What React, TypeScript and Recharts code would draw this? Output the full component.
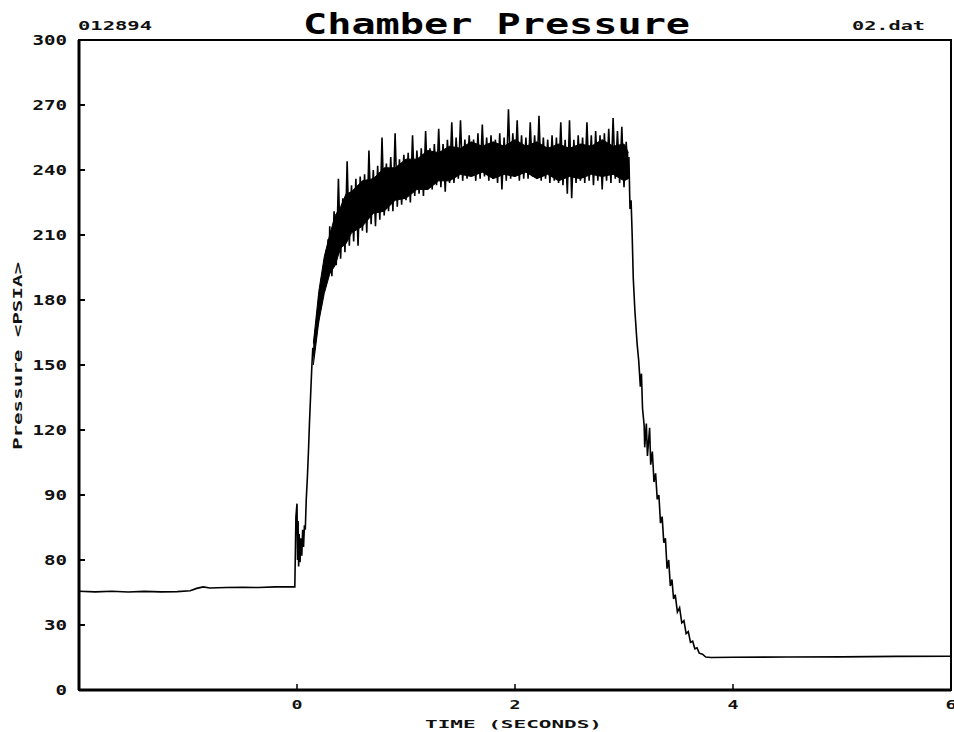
import React from "react";
import {
  ComposedChart,
  Line,
  Area,
  XAxis,
  YAxis,
  ReferenceArea,
} from "recharts";

// ---- labels ----
const titleText = "Chamber Pressure";
const leftCornerText = "012894";
const rightCornerText = "02.dat";
const xAxisTitle = "TIME (SECONDS)";
const yAxisTitle = "Pressure <PSIA>";

const xTicks = [0, 2, 4, 6];
const xTickLabels = ["0", "2", "4", "6"];
const yTicks = [0, 30, 60, 90, 120, 150, 180, 210, 240, 270, 300];
const yTickLabels = ["0", "30", "80", "90", "120", "150", "180", "210", "240", "270", "300"];

// ---- trace: [time (s), pressure (psia)] ----
const baseline: [number, number][] = [
  [-2.0, 45.6], [-1.85, 45.3], [-1.7, 45.6], [-1.55, 45.2], [-1.4, 45.5], [-1.25, 45.3],
  [-1.1, 45.4], [-0.98, 45.8], [-0.92, 46.9], [-0.86, 47.6], [-0.8, 47.1], [-0.65, 47.3],
  [-0.5, 47.4], [-0.35, 47.3], [-0.2, 47.6], [-0.02, 47.6],
];

const ignition: [number, number][] = [
  [-0.01, 80], [0.0, 86], [0.005, 60], [0.01, 78], [0.015, 57], [0.02, 72], [0.028, 59],
  [0.036, 70], [0.044, 62], [0.052, 74], [0.06, 66], [0.068, 76], [0.076, 74], [0.085, 88],
  [0.095, 98], [0.105, 110], [0.115, 124], [0.125, 136], [0.135, 148], [0.145, 158],
  [0.155, 154], [0.165, 166], [0.175, 162], [0.185, 174], [0.195, 169], [0.205, 182],
  [0.215, 176], [0.225, 190], [0.235, 183], [0.245, 196], [0.255, 187], [0.265, 203],
  [0.275, 190], [0.285, 208], [0.295, 193],
];

const plateau: [number, number][] = [
  [0.3, 214], [0.32, 191], [0.34, 221], [0.36, 196], [0.38, 236], [0.4, 199], [0.42, 227],
  [0.44, 202], [0.46, 244], [0.48, 205], [0.5, 233], [0.52, 207], [0.54, 236], [0.56, 205],
  [0.58, 237], [0.6, 212], [0.62, 238], [0.64, 211], [0.66, 249], [0.68, 215], [0.7, 240],
  [0.72, 214], [0.74, 242], [0.76, 217], [0.78, 255], [0.8, 219], [0.82, 243], [0.84, 221],
  [0.86, 246], [0.88, 221], [0.9, 257], [0.92, 223], [0.94, 245], [0.96, 224], [0.98, 247],
  [1.0, 226], [1.02, 248], [1.04, 225], [1.06, 256], [1.08, 228], [1.1, 249], [1.12, 229],
  [1.14, 250], [1.16, 228], [1.18, 258], [1.2, 231], [1.22, 250], [1.24, 231], [1.26, 252],
  [1.28, 233], [1.3, 259], [1.32, 232], [1.34, 252], [1.36, 230], [1.38, 254], [1.4, 234],
  [1.42, 262], [1.44, 234], [1.46, 255], [1.48, 236], [1.5, 263], [1.52, 235], [1.54, 254],
  [1.56, 236], [1.58, 256], [1.6, 237], [1.62, 254], [1.64, 235], [1.66, 257], [1.68, 236],
  [1.7, 261], [1.72, 237], [1.74, 255], [1.76, 235], [1.78, 256], [1.8, 236], [1.82, 254],
  [1.84, 234], [1.86, 257], [1.88, 231], [1.9, 255], [1.92, 235], [1.94, 268], [1.96, 236],
  [1.98, 257], [2.0, 237], [2.02, 263], [2.04, 235], [2.06, 256], [2.08, 236], [2.1, 255],
  [2.12, 236], [2.14, 262], [2.16, 237], [2.18, 256], [2.2, 236], [2.22, 265], [2.24, 235],
  [2.26, 255], [2.28, 236], [2.3, 254], [2.32, 234], [2.34, 256], [2.36, 235], [2.38, 255],
  [2.4, 234], [2.42, 262], [2.44, 233], [2.46, 254], [2.48, 229], [2.5, 263], [2.52, 227],
  [2.54, 254], [2.56, 234], [2.58, 256], [2.6, 235], [2.62, 255], [2.64, 234], [2.66, 262],
  [2.68, 235], [2.7, 256], [2.72, 233], [2.74, 258], [2.76, 235], [2.78, 256], [2.8, 231],
  [2.82, 257], [2.84, 235], [2.86, 259], [2.88, 234], [2.9, 264], [2.92, 236], [2.94, 258],
  [2.96, 234], [2.98, 260], [3.0, 232], [3.02, 253], [3.04, 236],
];

const tailoff: [number, number][] = [
  [3.045, 246], [3.055, 222], [3.065, 226], [3.075, 210], [3.085, 190], [3.1, 175],
  [3.12, 160], [3.135, 152], [3.15, 140], [3.16, 146], [3.17, 130], [3.185, 122],
  [3.19, 112], [3.205, 123], [3.215, 108], [3.235, 121], [3.245, 104], [3.26, 110],
  [3.275, 96], [3.29, 100], [3.305, 88], [3.32, 90], [3.335, 77], [3.35, 80], [3.365, 68],
  [3.38, 70], [3.395, 56], [3.41, 60], [3.425, 48], [3.44, 51], [3.455, 42], [3.47, 44],
  [3.49, 36], [3.51, 38], [3.53, 31], [3.55, 32], [3.57, 26], [3.59, 27], [3.61, 22],
  [3.63, 22.5], [3.65, 19], [3.67, 19.5], [3.69, 17], [3.72, 16.5], [3.75, 15.2],
  [3.8, 15.0], [4.0, 15.1], [4.5, 15.2], [5.0, 15.3], [5.5, 15.5], [6.0, 15.6],
];

// ---- dense noise band (low / high envelope) ----
const bandT = [0.15, 0.2, 0.25, 0.3, 0.35, 0.4, 0.45, 0.5, 0.6, 0.7, 0.8, 0.9, 1.0, 1.1, 1.2, 1.3, 1.4, 1.5, 1.6, 1.7, 1.8, 1.9, 2.0, 2.1, 2.2, 2.3, 2.4, 2.5, 2.6, 2.7, 2.8, 2.9, 3.0, 3.04];
const bandLow = [150, 170, 183, 192, 196, 204, 206, 211, 214, 220, 221, 226, 227, 231, 231, 235, 235, 238, 237, 239, 236, 238, 237, 239, 236, 238, 235, 237, 236, 238, 237, 238, 235, 236];
const bandHigh = [160, 184, 200, 210, 219, 223, 229, 230, 235, 236, 241, 241, 245, 245, 249, 248, 251, 250, 253, 251, 253, 251, 254, 251, 253, 250, 252, 250, 252, 251, 254, 251, 252, 248];

const traceData = [...baseline, ...ignition, ...plateau, ...tailoff].map(([t, p]) => ({ t, p }));
const bandData = bandT.map((t, i) => ({ t, range: [bandLow[i], bandHigh[i]] }));

const FONT = "'DejaVu Sans Mono', monospace";

const labelWidth = (s: string) => s.length * 11.5;

const YTick = (props: any) => {
  const { x, y, payload, index } = props;
  const label = yTickLabels[index] ?? String(payload.value);
  return (
    <g>
      <line x1={x + 12} x2={x + 18} y1={y} y2={y} stroke="#000" strokeWidth={2} />
      <text
        x={x}
        y={y}
        dy="0.36em"
        textAnchor="end"
        fontFamily={FONT}
        fontWeight="bold"
        fontSize={14}
        fill="#111"
        textLength={labelWidth(label)}
        lengthAdjust="spacingAndGlyphs"
      >
        {label}
      </text>
    </g>
  );
};

const XTick = (props: any) => {
  const { x, y, payload, index } = props;
  const label = xTickLabels[index] ?? String(payload.value);
  return (
    <g>
      <line x1={x} x2={x} y1={y - 10} y2={y - 16} stroke="#000" strokeWidth={1.5} />
      <text
        x={x}
        y={y + 4}
        dy="0.36em"
        textAnchor="middle"
        fontFamily={FONT}
        fontWeight="bold"
        fontSize={13}
        fill="#111"
        textLength={11}
        lengthAdjust="spacingAndGlyphs"
      >
        {label}
      </text>
    </g>
  );
};

export default function App() {
  return (
    <div style={{ position: "absolute", left: 0, top: 0, width: 954, height: 732, background: "#fff" }}>
      <ComposedChart
        width={954}
        height={732}
        margin={{ top: 40, right: 3, bottom: 0, left: 0 }}
        style={{ position: "absolute", left: 0, top: 0 }}
      >
        <XAxis
          dataKey="t"
          type="number"
          domain={[-2, 6]}
          ticks={xTicks}
          allowDataOverflow
          height={42}
          tickSize={0}
          tickMargin={10}
          tickLine={false}
          interval={0}
          axisLine={{ stroke: "#000", strokeWidth: 3 }}
          tick={<XTick />}
        />
        <YAxis
          type="number"
          domain={[0, 300]}
          ticks={yTicks}
          allowDataOverflow
          width={79}
          tickSize={0}
          tickMargin={12}
          tickLine={false}
          interval={0}
          axisLine={{ stroke: "#000", strokeWidth: 3 }}
          tick={<YTick />}
        />
        <ReferenceArea x1={-2} x2={6} y1={0} y2={300} fill="none" stroke="#000" strokeWidth={2} ifOverflow="visible" />
        <Area
          data={bandData}
          dataKey="range"
          type="linear"
          stroke="#000"
          strokeWidth={1}
          fill="#000"
          fillOpacity={1}
          isAnimationActive={false}
          dot={false}
          activeDot={false}
        />
        <Line
          data={traceData}
          dataKey="p"
          type="linear"
          stroke="#000"
          strokeWidth={1.6}
          dot={false}
          activeDot={false}
          isAnimationActive={false}
        />
      </ComposedChart>
      <svg
        width={954}
        height={732}
        style={{ position: "absolute", left: 0, top: 0, pointerEvents: "none" }}
      >
        <text x={78} y={30} fontFamily={FONT} fontWeight="bold" fontSize={13} fill="#111" textLength={74} lengthAdjust="spacingAndGlyphs">
          {leftCornerText}
        </text>
        <text x={852} y={30} fontFamily={FONT} fontWeight="bold" fontSize={13} fill="#111" textLength={73} lengthAdjust="spacingAndGlyphs">
          {rightCornerText}
        </text>
        <text x={303} y={34} fontFamily={FONT} fontWeight="bold" fontSize={28} fill="#000" textLength={387} lengthAdjust="spacingAndGlyphs">
          {titleText}
        </text>
        <text x={425} y={728} fontFamily={FONT} fontWeight="bold" fontSize={11} fill="#111" textLength={177} lengthAdjust="spacingAndGlyphs">
          {xAxisTitle}
        </text>
        <text
          x={0}
          y={0}
          transform="translate(22 450) rotate(-90)"
          fontFamily={FONT}
          fontWeight="bold"
          fontSize={12}
          fill="#111"
          textLength={188}
          lengthAdjust="spacingAndGlyphs"
        >
          {yAxisTitle}
        </text>
      </svg>
    </div>
  );
}
